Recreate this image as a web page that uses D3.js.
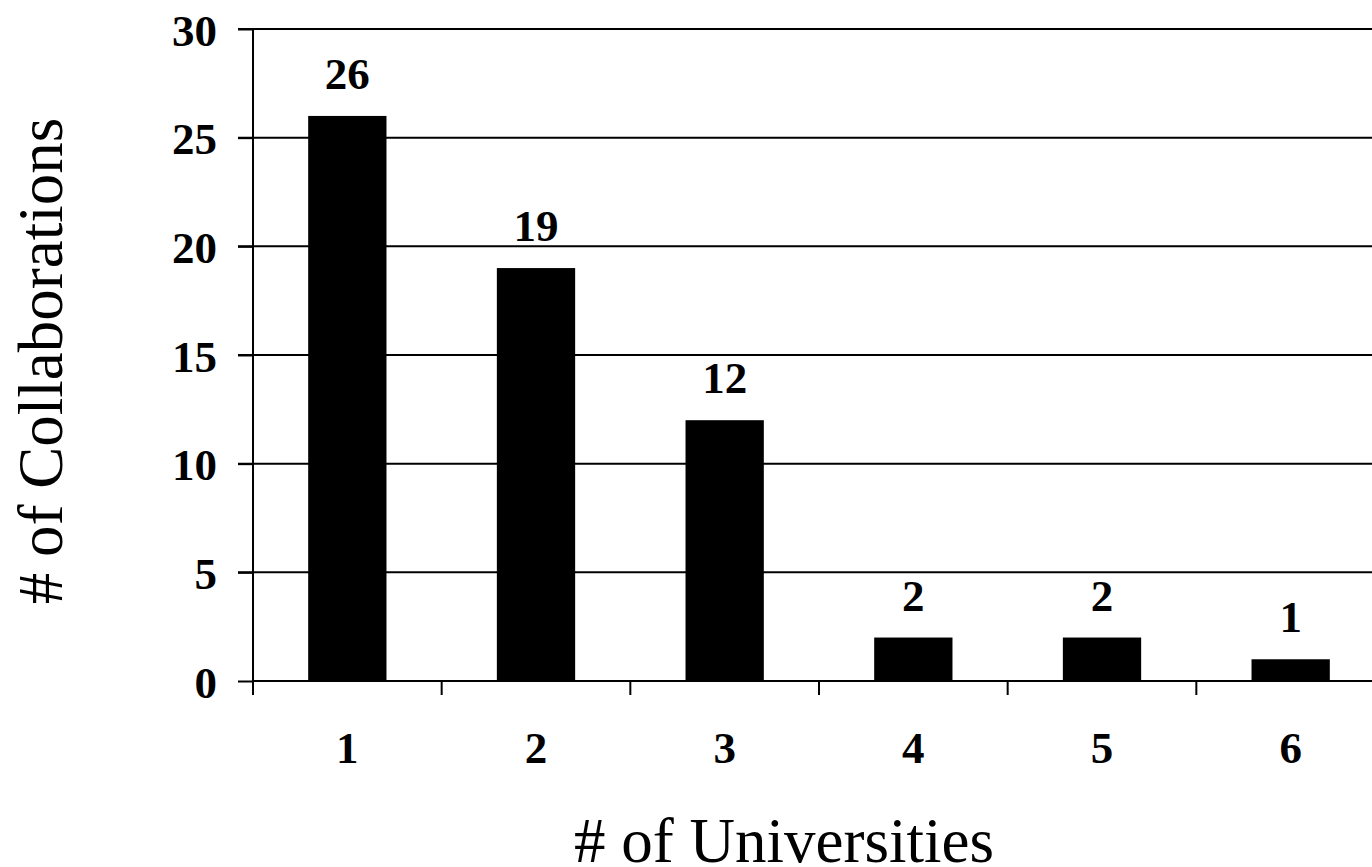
<!DOCTYPE html>
<html>
<head>
<meta charset="utf-8">
<script src="https://cdn.jsdelivr.net/npm/d3@7"></script>
<style>
  html, body { margin: 0; padding: 0; background: #fff; }
  svg { display: block; }
</style>
</head>
<body>
<svg id="chart" width="1372" height="867"></svg>
<script>
// Number of universities per collaboration vs. count of collaborations
const categories = ["1", "2", "3", "4", "5", "6"];
const collaborations = [26, 19, 12, 2, 2, 1];
const yTicks = [0, 5, 10, 15, 20, 25, 30];

const serif = "'Liberation Serif', 'Times New Roman', Times, serif";
const svg = d3.select("#chart");
const margin = { left: 253, top: 29, right: -13, bottom: 186 };
const W = 1372, H = 867;
const plotW = W - margin.left - margin.right;
const plotH = H - margin.top - margin.bottom;

const x = d3.scaleBand().domain(categories).range([0, plotW]).paddingInner(0.585).paddingOuter(0.2925);
const xTickScale = d3.scaleBand().domain(categories).range([0, plotW]);
const y = d3.scaleLinear().domain([0, 30]).range([plotH, 0]);

const g = svg.append("g").attr("transform", `translate(${margin.left},${margin.top})`);

// horizontal gridlines
g.append("g")
  .selectAll("line")
  .data(yTicks.filter(d => d > 0))
  .join("line")
  .attr("x1", -15).attr("x2", plotW)
  .attr("y1", d => y(d)).attr("y2", d => y(d))
  .attr("stroke", "#000").attr("stroke-width", 2);

// bars
g.append("g")
  .selectAll("rect")
  .data(collaborations)
  .join("rect")
  .attr("x", (d, i) => x(categories[i]))
  .attr("width", x.bandwidth())
  .attr("y", d => y(d))
  .attr("height", d => plotH - y(d))
  .attr("fill", "#000");

// value labels
g.append("g")
  .selectAll("text")
  .data(collaborations)
  .join("text")
  .attr("x", (d, i) => x(categories[i]) + x.bandwidth() / 2)
  .attr("y", d => y(d) - 27)
  .attr("text-anchor", "middle")
  .attr("font-family", serif)
  .attr("font-weight", "bold")
  .attr("font-size", 45)
  .text(d => d);

// y axis
const yAxis = d3.axisLeft(y).tickValues(yTicks).tickSize(15).tickPadding(21);
const yG = g.append("g").call(yAxis);
yG.select(".domain").attr("stroke-width", 2).attr("d", `M0,${plotH}V0`);
yG.selectAll(".tick line").attr("stroke-width", 2);
yG.selectAll(".tick text")
  .attr("font-family", serif)
  .attr("font-weight", "bold")
  .attr("font-size", 45)
  .attr("fill", "#000")
  .attr("dy", 16);

// x axis
const xAxis = d3.axisBottom(xTickScale).tickSize(0).tickPadding(0);
const xG = g.append("g").attr("transform", `translate(0,${plotH})`).call(xAxis);
xG.select(".domain").attr("stroke-width", 2).attr("d", `M0,0H${plotW}`);
xG.selectAll(".tick text")
  .attr("font-family", serif)
  .attr("font-weight", "bold")
  .attr("font-size", 45)
  .attr("fill", "#000")
  .attr("dy", 0)
  .attr("y", 82);
// tick marks on category boundaries
g.append("g")
  .attr("transform", `translate(0,${plotH})`)
  .selectAll("line")
  .data(categories)
  .join("line")
  .attr("x1", d => xTickScale(d)).attr("x2", d => xTickScale(d))
  .attr("y1", 0).attr("y2", 14)
  .attr("stroke", "#000").attr("stroke-width", 2);

// axis titles
svg.append("text")
  .attr("transform", `translate(62,${361}) rotate(-90)`)
  .attr("text-anchor", "middle")
  .attr("font-family", serif)
  .attr("font-size", 63)
  .text("# of Collaborations");

svg.append("text")
  .attr("x", 784)
  .attr("y", 862)
  .attr("text-anchor", "middle")
  .attr("font-family", serif)
  .attr("font-size", 63)
  .text("# of Universities");
</script>
</body>
</html>
